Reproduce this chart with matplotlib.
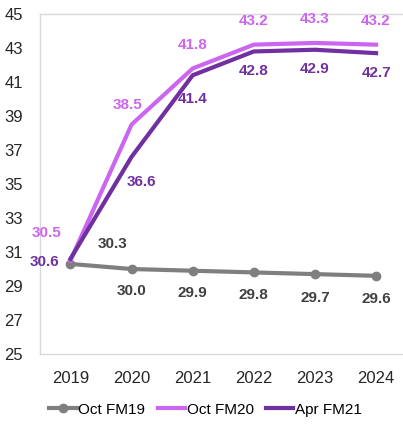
import matplotlib
matplotlib.use("Agg")
import matplotlib.pyplot as plt

years = ["2019", "2020", "2021", "2022", "2023", "2024"]
oct_fm19 = [30.3, 30.0, 29.9, 29.8, 29.7, 29.6]
oct_fm20 = [30.5, 38.5, 41.8, 43.2, 43.3, 43.2]
apr_fm21 = [30.6, 36.6, 41.4, 42.8, 42.9, 42.7]
yticks = [25, 27, 29, 31, 33, 35, 37, 39, 41, 43, 45]

c19 = "#7f7f7f"
c20 = "#cc66f0"
c21 = "#7030a0"

plt.rcParams['font.family'] = ['Liberation Sans', 'DejaVu Sans']

fig = plt.figure(figsize=(4.03, 4.26), dpi=100)
ax = fig.add_axes([0.099, 0.169, 0.91, 0.798])

x = list(range(len(years)))
ax.plot(x, oct_fm19, color=c19, lw=3, marker="o", ms=6, label="Oct FM19", zorder=3)
ax.plot(x, oct_fm20, color=c20, lw=3, label="Oct FM20", zorder=3)
ax.plot(x, apr_fm21, color=c21, lw=3, label="Apr FM21", zorder=4)

# label centre offsets in points from each point
off19 = [(30, 14), (0, -16), (0, -16), (0, -16), (0, -17), (0, -17)]
off20 = [(-17, 20), (-3, 14), (0, 17), (0, 17), (0, 17), (0, 17)]
off21 = [(-19, -2), (7, -18), (0, -17), (0, -14), (0, -14), (0, -14)]

lab = dict(ha="center", va="center", fontsize=11, fontweight="bold",
           textcoords="offset points")
for i in range(len(years)):
    ax.annotate(f"{oct_fm19[i]:.1f}", (x[i], oct_fm19[i]),
                xytext=off19[i], color="#404040", **lab)
    ax.annotate(f"{oct_fm20[i]:.1f}", (x[i], oct_fm20[i]),
                xytext=off20[i], color=c20, **lab)
    ax.annotate(f"{apr_fm21[i]:.1f}", (x[i], apr_fm21[i]),
                xytext=off21[i], color=c21, **lab)

ax.set_xlim(-0.5, len(years) - 0.5)
ax.set_ylim(25, 45)
ax.set_yticks(yticks)
ax.set_xticks(x)
ax.set_xticklabels(years)
ax.tick_params(axis="both", length=0, labelsize=12, colors="#262626")
ax.tick_params(axis="x", pad=12)
ax.tick_params(axis="y", pad=12)
for s in ax.spines.values():
    s.set_color("#d9d9d9")
    s.set_linewidth(1)

fig.legend(loc="lower center", bbox_to_anchor=(0.51, -0.01), ncol=3, frameon=False,
           fontsize=11, handlelength=1.8, handletextpad=0.1, columnspacing=0.8)

plt.savefig("out.png", dpi=100)
